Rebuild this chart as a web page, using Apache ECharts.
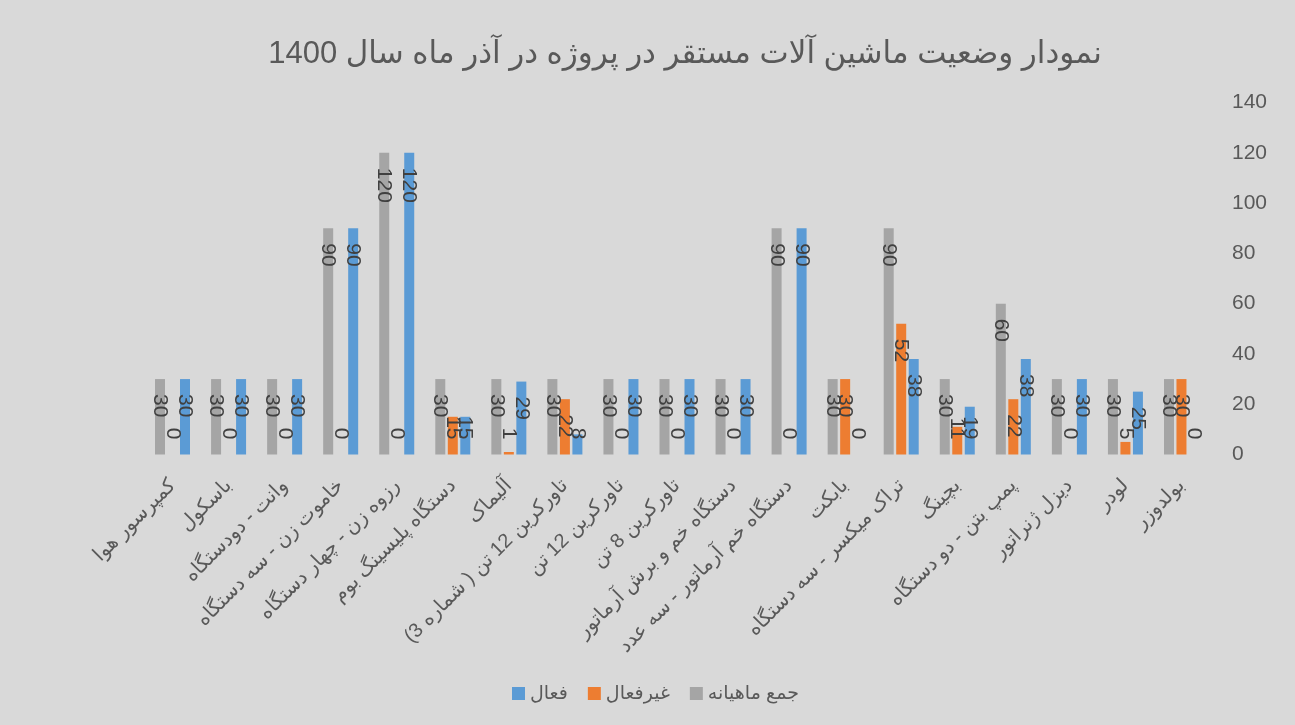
<!DOCTYPE html>
<html><head><meta charset="utf-8">
<script src="https://cdn.jsdelivr.net/npm/echarts@6/dist/echarts.min.js"></script>
<style>html,body{margin:0;padding:0;background:#d9d9d9}#c{width:1295px;height:725px}</style>
</head><body><div id="c"></div>
<script>
// categories in display order (left to right)
const categories = [
  'کمپرسور هوا',
  'باسکول',
  'وانت - دودستگاه',
  'خاموت زن - سه دستگاه',
  'رزوه زن - چهار دستگاه',
  'دستگاه پلیسینگ بوم',
  'آلیماک',
  'تاورکرین 12 تن ( شماره 3)',
  'تاورکرین 12 تن',
  'تاورکرین 8 تن',
  'دستگاه خم و برش آرماتور',
  'دستگاه خم آرماتور - سه عدد',
  'بابکت',
  'تراک میکسر - سه دستگاه',
  'بچینگ',
  'پمپ بتن - دو دستگاه',
  'دیزل ژنراتور',
  'لودر',
  'بولدوزر'
];
const monthlyTotal = [30, 30, 30, 90, 120, 30, 30, 30, 30, 30, 30, 90, 30, 90, 30, 60, 30, 30, 30];
const inactive     = [0, 0, 0, 0, 0, 15, 1, 22, 0, 0, 0, 0, 30, 52, 11, 22, 0, 5, 30];
const active       = [30, 30, 30, 90, 120, 15, 29, 8, 30, 30, 30, 90, 0, 38, 19, 38, 30, 25, 0];
const seriesNames = ['جمع ماهیانه', 'غیرفعال', 'فعال'];
const legendOrder = ['فعال', 'غیرفعال', 'جمع ماهیانه'];
const yMin = 0, yMax = 140, yStep = 20;
const title = 'نمودار وضعیت ماشین آلات مستقر در پروژه در آذر ماه سال 1400';

const FONT = "'Liberation Sans', 'DejaVu Sans', Arial, sans-serif";
const gridTop = 102.5, gridBottom = 270.5;
const plotH = 725 - gridTop - gridBottom;
const labelSize = 21, labelDist = 15;

function labelled(arr) {
  return arr.map(v => {
    const barPx = v * plotH / (yMax - yMin);
    const need = 2 * labelDist + String(v).length * 0.556 * labelSize;
    const fits = barPx >= need;
    return {
      value: v,
      label: {
        position: fits ? 'insideTop' : 'insideBottom',
        align: fits ? 'left' : 'right'
      }
    };
  });
}

const colors = ['#A5A5A5', '#ED7D31', '#5B9BD5'];
const seriesData = [monthlyTotal, inactive, active];

const chart = echarts.init(document.getElementById('c'));
chart.setOption({
  backgroundColor: '#d9d9d9',
  animation: false,
  textStyle: { fontFamily: FONT },
  title: {
    text: title,
    left: 680,
    textAlign: 'center',
    top: 34,
    textStyle: { fontFamily: FONT, fontSize: 31, fontWeight: 'normal', color: '#595959' }
  },
  legend: {
    data: legendOrder,
    left: 507,
    top: 679,
    icon: 'rect',
    itemWidth: 13,
    itemHeight: 13,
    itemGap: 20,
    textStyle: { fontFamily: FONT, fontSize: 19, color: '#595959' }
  },
  grid: { left: 144.5, right: 85.5, top: gridTop, bottom: gridBottom, containLabel: false },
  xAxis: {
    type: 'category',
    data: categories,
    axisLine: { show: false },
    axisTick: { show: false },
    axisLabel: {
      interval: 0,
      rotate: 45,
      margin: 28,
      fontFamily: FONT,
      fontSize: 20,
      color: '#595959'
    }
  },
  yAxis: {
    type: 'value',
    position: 'right',
    min: yMin,
    max: yMax,
    interval: yStep,
    axisLine: { show: false },
    axisTick: { show: false },
    splitLine: { show: false },
    axisLabel: { margin: 22.5, fontFamily: FONT, fontSize: 21, color: '#595959' }
  },
  series: seriesNames.map((name, i) => ({
    name: name,
    type: 'bar',
    barWidth: 10,
    barGap: '25%',
    itemStyle: { color: colors[i] },
    label: {
      show: true,
      rotate: -90,
      distance: labelDist,
      verticalAlign: 'middle',
      fontFamily: FONT,
      fontSize: labelSize,
      color: '#404040'
    },
    data: labelled(seriesData[i])
  }))
});
</script></body></html>
